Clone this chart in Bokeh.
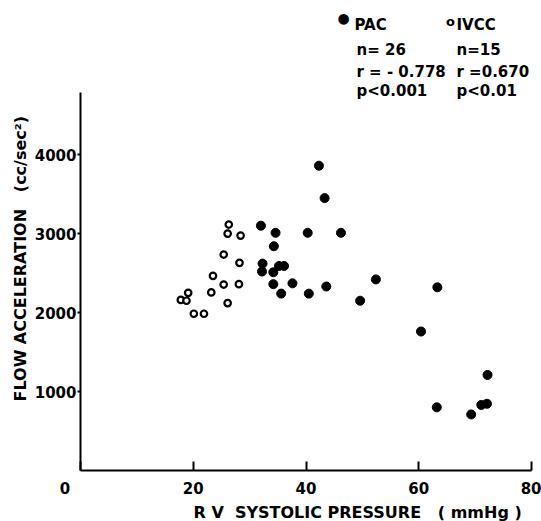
import math
from bokeh.plotting import figure
from bokeh.models import Label, Range1d, FixedTicker, Title
from bokeh.embed import file_html
from bokeh.resources import INLINE

# PAC (filled) data
pac_x = [32.0, 34.6, 40.3, 46.2, 34.3, 32.3, 32.2, 34.2, 35.2, 36.1, 34.2, 37.6, 35.6,
         40.5, 43.6, 43.3, 42.3, 52.4, 49.6, 63.3, 60.4, 72.2, 63.2, 69.3, 71.1, 72.1]
pac_y = [3100, 3010, 3010, 3010, 2840, 2620, 2520, 2510, 2590, 2590, 2360, 2370, 2240,
         2240, 2330, 3450, 3860, 2420, 2150, 2320, 1760, 1210, 800, 710, 830, 845]

# IVCC (open) data
ivcc_x = [26.3, 26.1, 28.4, 25.4, 28.2, 23.5, 25.4, 28.1, 19.1, 23.2, 17.8, 18.8, 26.1, 20.1, 21.9]
ivcc_y = [3115, 3000, 2975, 2735, 2630, 2465, 2355, 2360, 2250, 2255, 2160, 2150, 2120, 1985, 1985]

x_ticks = [0, 20, 40, 60, 80]
y_ticks = [1000, 2000, 3000, 4000]
x_axis_max = 80
y_axis_max = 4790

NB = "\u00a0"
x_title = "R V" + NB + " SYSTOLIC PRESSURE" + NB * 2 + " ( mmHg )"
y_title = "FLOW ACCELERATION" + NB * 2 + " (cc/sec²)"

legend_pac = ["PAC", "n= 26", "r = - 0.778", "p<0.001"]
legend_ivcc = ["IVCC", "n=15", "r =0.670", "p<0.01"]

FONT = "DejaVu Sans"

# frame: left edge at px 80 (x=0), bottom at px 472 (y=0); scales 5.6375 px/unit, 79.3 px/1000
W, H = 541, 521
LEFT, BOTTOM = 80, 472
SX, SY = 5.6375, 0.0793

p = figure(width=W, height=H, output_backend="svg", toolbar_location=None,
           x_range=Range1d(0, (W - LEFT) / SX), y_range=Range1d(0, BOTTOM / SY),
           min_border_left=LEFT, min_border_right=0, min_border_top=0,
           min_border_bottom=H - BOTTOM)
p.title.visible = False
p.outline_line_color = None
p.grid.visible = False
p.background_fill_color = "white"
p.border_fill_color = "white"

for ax in (p.xaxis[0], p.yaxis[0]):
    ax.axis_line_width = 2
    ax.axis_line_color = "black"
    ax.major_tick_line_width = 2
    ax.major_tick_line_color = "black"
    ax.minor_tick_line_color = None
    ax.major_label_text_font = FONT
    ax.major_label_text_font_style = "bold"
    ax.major_label_text_font_size = "15px"
    ax.major_label_text_color = "black"

p.xaxis[0].bounds = (0, x_axis_max)
p.xaxis[0].ticker = FixedTicker(ticks=x_ticks)
p.xaxis[0].major_label_overrides = {0: "0\u2007\u2007\u2007"}
p.xaxis[0].major_tick_in = 9
p.xaxis[0].major_tick_out = 0
p.xaxis[0].major_label_standoff = 9

p.yaxis[0].bounds = (0, y_axis_max)
p.yaxis[0].ticker = FixedTicker(ticks=y_ticks)
p.yaxis[0].major_tick_in = 0
p.yaxis[0].major_tick_out = 3
p.yaxis[0].major_label_standoff = 1

# axis titles as side-panel titles
p.add_layout(Title(text=y_title, align="left", offset=69, standoff=4, text_font=FONT,
                   text_font_style="bold", text_font_size="16px", text_color="black"), "left")
p.add_layout(Title(text=x_title, align="left", offset=113, standoff=0, text_font=FONT,
                   text_font_style="bold", text_font_size="16px", text_color="black"), "below")

# data
p.scatter(pac_x, pac_y, size=9, fill_color="black", line_color="black", line_width=1)
p.scatter(ivcc_x, ivcc_y, size=6.5, fill_color="white", line_color="black", line_width=2.2)

def dx(px):
    return (px - LEFT) / SX

def dy(py):
    return (BOTTOM - py) / SY

def lab(text, px, py, size="15px", align="left", baseline="alphabetic"):
    p.add_layout(Label(x=dx(px), y=dy(py), text=text, text_font=FONT, text_font_style="bold",
                       text_font_size=size, text_align=align, text_baseline=baseline,
                       text_color="black"))

# legend block
lab("●", 343, 18, size="14px", align="center", baseline="middle")
lab("o", 450, 21, size="13px", align="center", baseline="alphabetic")
rows_y = [25, 50, 72, 91]
for i, (t, yy) in enumerate(zip(legend_pac, rows_y)):
    lab(t, 354 if i == 0 else 356, yy)
for i, (t, yy) in enumerate(zip(legend_ivcc, rows_y)):
    lab(t, 456, yy)

open("out.html", "w").write(file_html(p, INLINE))
